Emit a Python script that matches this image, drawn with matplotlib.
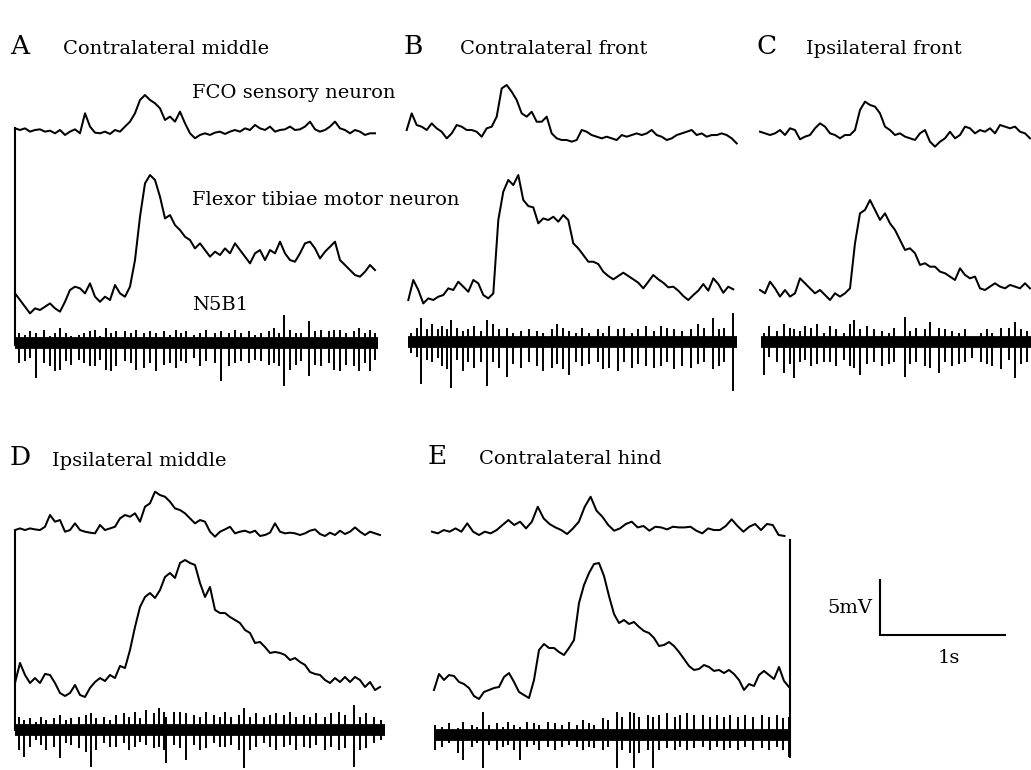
import numpy as np
import matplotlib
matplotlib.use("Agg")
import matplotlib.pyplot as plt

# ---------------- data ----------------
# Intracellular traces: membrane potential (mV) relative to each trace's resting level,
# sampled at a fixed interval (s).
DT = 0.04
DT_E_FCO = 0.047

A_fco = [0.45, 0.3, 0.45, 0.15, 0.3, 0.36, 0.15, 0.24, 0, 0.3, -0.15, 0.15, 0.36, 0, 1.82, 0.61, 0.06, 0,
         0.15, -0.06, 0.3, 0.15, 0.61, 1.06, 1.82, 3.03, 3.48, 3.03, 2.73, 2.27, 1.21, 1.52, 1.06, 1.97, 0.91,
         0, -0.45, -0.15, 0, -0.15, 0.06, 0.15, -0.06, 0.15, 0.3, 0.15, 0.45, 0.3, 0.76, 0.45, 0.3, 0.61, 0.15,
         0.3, 0.36, 0.61, 0.3, 0.36, 0.61, 1.06, 0.36, 0.15, 0.3, 0.61, 1.06, 0.45, 0.3, 0, 0.3, 0.15, -0.15, 0, 0]
A_flex = [1.21, 0.61, 0, -0.61, -0.15, -0.3, 0, 0.3, -0.15, -0.45, 0.45, 1.52, 1.82, 1.67, 1.21, 2.12, 0.91,
          0.45, 0.91, 0.61, 1.97, 1.21, 0.91, 1.82, 4.24, 8.18, 11.21, 11.97, 11.52, 10.0, 8.03, 8.33, 7.42,
          6.97, 6.36, 6.06, 5.3, 5.76, 5.15, 4.55, 5.0, 4.7, 5.3, 4.85, 5.76, 5.15, 4.55, 3.94, 4.85, 5.15,
          4.24, 5.15, 4.85, 5.91, 4.85, 4.24, 4.09, 4.85, 5.76, 5.91, 5.3, 4.39, 5.0, 5.45, 5.91, 4.24, 3.79,
          3.33, 2.88, 2.73, 3.18, 3.79, 3.33]
B_fco = [0.61, 2.12, 1.06, 0.91, 0.61, 1.21, 0.76, 0.45, -0.15, 0.3, 1.06, 0.91, 0.61, 0.61, 0.45, 0, 0.76,
         0.91, 1.82, 4.39, 4.7, 4.09, 3.33, 2.12, 1.82, 2.27, 1.36, 1.36, 1.82, 0.3, -0.15, -0.3, -0.3, -0.45,
         -0.3, 0.61, 0.45, 0.15, 0, -0.15, 0, -0.15, -0.3, 0.15, 0, 0.15, 0.3, 0.15, 0.3, 0.61, 0.15, 0, -0.3,
         -0.15, 0.15, 0.3, 0.45, 0.61, 0.15, 0.3, 0, 0.15, 0.15, 0.3, 0.15, -0.15, -0.61]
B_flex = [-0.3, 1.52, 0.61, -0.61, -0.15, -0.3, 0, 0.15, 0.76, 0.61, 1.36, 0.91, 0.45, 1.52, 1.21, 0.15,
          -0.15, 0.3, 6.97, 9.55, 10.61, 10.15, 11.06, 8.79, 8.24, 8.12, 6.67, 7.12, 6.97, 7.27, 6.82, 7.42,
          6.97, 4.85, 4.39, 3.79, 3.18, 3.18, 2.97, 2.27, 1.88, 1.58, 1.88, 2.18, 1.88, 1.58, 1.27, 0.76, 1.36,
          1.97, 1.58, 1.27, 0.85, 0.91, 0.55, 0.06, -0.3, 0.15, 0.55, 1.15, 0.55, 1.67, 1.15, 0.36, 0.91, 0.67]
C_fco = [0.3, 0.15, 0, 0.15, 0.45, 0, 0.61, 0.45, -0.39, -0.15, 0, 0.61, 1.06, 0.76, 0.15, 0, -0.3, 0, 0,
         0.45, 2.27, 3.03, 2.73, 2.58, 1.97, 0.76, 0.45, 0, 0.15, -0.15, -0.3, -0.45, 0.15, 0.45, -0.61, -1.06,
         -0.61, -0.3, 0.3, -0.3, 0, 0.76, 0.61, 0.15, 0.45, 0.3, 0.61, 0.15, 0.91, 0.76, 0.61, 0.76, 0.3, 0.15,
         -0.3]
C_flex = [0.3, 0, 1.06, 0.45, -0.3, 0.3, -0.3, 0, 1.36, 0.91, 0.45, 0, 0.3, -0.15, -0.61, 0, -0.3, 0, 0.45,
          4.55, 7.27, 7.58, 8.48, 7.58, 6.67, 7.27, 6.36, 5.76, 4.85, 3.94, 4.09, 3.64, 2.58, 2.73, 2.42, 2.42,
          1.97, 1.82, 1.52, 1.21, 2.27, 1.67, 1.36, 1.52, 0.45, 0.3, 0.61, 0.91, 0.61, 0.45, 0.76, 0.61, 0.45,
          0.91, 0.45]
D_fco = [0.15, 0.3, 0.15, 0.3, 0.21, 0.15, 0.45, 1.52, 0.91, 1.06, 0, 0.15, 0.76, 0.15, 0, -0.09, -0.15,
         0.61, 0.15, 0.3, 0.45, 1.21, 1.52, 1.36, 1.67, 0.91, 2.27, 2.58, 3.64, 3.33, 3.18, 2.73, 2.12, 1.97,
         1.67, 1.21, 0.76, 1.06, 0.91, 0, -0.45, 0, 0.21, 0.45, -0.15, 0, 0.09, -0.09, 0.09, -0.39, -0.3,
         -0.09, 0.76, 0, -0.15, -0.09, -0.15, -0.3, -0.15, 0.09, 0.21, -0.21, -0.39, -0.09, -0.3, 0.09, -0.21,
         0, 0.39, 0, -0.3, 0, -0.15, -0.3]
D_flex = [0, 1.82, 0.73, 0, 0.45, 0, 0.82, 0.73, 0, -0.91, -1.18, -0.91, -0.18, -1.09, -1.27, -0.45, 0.09,
          0.45, 0.18, 0.73, 0.45, 1.55, 1.36, 3.0, 5.09, 6.91, 7.82, 8.18, 7.73, 8.45, 9.64, 10.0, 9.55,
          10.91, 11.18, 10.91, 10.73, 9.09, 7.82, 8.73, 6.64, 6.36, 6.36, 6.0, 5.73, 5.45, 4.82, 4.55, 3.64,
          3.73, 3.27, 2.73, 2.82, 2.73, 2.55, 2.09, 2.27, 1.91, 1.64, 1.0, 0.82, 0.73, 0.27, 0, 0.45, 0.09,
          0.55, 0.09, 0.55, 0.27, -0.36, 0.09, -0.64, -0.36]
E_fco = [0, -0.15, 0.15, 0, 0.3, 0, 0.76, 0, -0.3, 0, -0.15, 0.15, 0.61, 1.06, 0.61, 0.91, 0.3, 0.91, 2.27,
         1.21, 0.7, 0.39, 0.15, -0.21, 0.3, 0.91, 2.27, 3.18, 1.91, 1.36, 0.61, 0.09, 0.3, 0.7, 0.91, 0.39,
         0.52, 0.09, 0.45, 0.39, 0.21, 0.45, 0.39, 0.39, 0.45, 0.09, -0.15, 0.3, 0.15, 0.15, 0.52, 1.12, 0.52,
         0, 0.45, 0.7, 0.15, 0.7, 0.61, -0.3, -0.39]
E_flex = [-0.18, 1.27, 0.73, 1.18, 1.09, 0.55, 0.36, 0, -0.73, -1.0, -0.36, -0.18, 0, 0.09, 1.0, 1.36, 0.55,
          -0.36, -0.64, -0.91, 0.73, 3.45, 4.0, 3.64, 3.64, 3.27, 3.0, 3.64, 4.36, 7.73, 9.36, 10.45, 11.27,
          11.36, 10.18, 8.36, 6.73, 5.91, 6.18, 5.82, 6.0, 5.55, 5.18, 5.0, 4.55, 3.82, 3.91, 4.18, 3.82,
          3.27, 2.64, 2.0, 1.64, 1.73, 2.09, 1.91, 1.55, 1.64, 1.36, 1.64, 1.27, 0.73, -0.18, 0.36, 0.18,
          1.18, 1.55, 1.18, 0.82, 1.91, 0.64, 0.09]

# Extracellular N5B1 recordings: spike time (s), upward and downward excursion (a.u.)
A_spk_t = [.03, .08, .12, .17, .23, .28, .32, .36, .41, .45, .51, .55, .60, .64, .68, .73, .77, .81, .88,
           .93, .97, 1.03, 1.08, 1.13, 1.19, 1.24, 1.29, 1.33, 1.37, 1.43, 1.48, 1.53, 1.60, 1.65, 1.71, 1.76,
           1.81, 1.87, 1.92, 1.97, 2.03, 2.07, 2.11, 2.15, 2.20, 2.25, 2.29, 2.35, 2.40, 2.45, 2.51, 2.55,
           2.60, 2.65, 2.71, 2.75, 2.80, 2.84, 2.88]
A_spk_up = [10, 8.3, 11.7, 10, 13.3, 6.7, 10, 15, 10, 6.7, 8.3, 10, 11.7, 13.3, 6.7, 15, 10, 11.7, 11.7, 10,
            13.3, 10, 11.7, 10, 11.7, 8.3, 13.3, 10, 11.7, 8.3, 10, 13.3, 10, 11.7, 10, 13.3, 10, 11.7, 8.3,
            10, 11.7, 15, 10, 28.3, 13.3, 10, 10, 21.7, 11.7, 13.3, 11.7, 13.3, 13.3, 10, 11.7, 15, 10, 13.3,
            10]
A_spk_dn = [20, 18.3, 15, 35, 20, 23.3, 28.3, 26.7, 18.3, 21.7, 16.7, 20, 23.3, 23.3, 16.7, 26.7, 28.3,
            23.3, 18.3, 20, 26.7, 25, 20, 28.3, 21.7, 20, 25, 18.3, 20, 15, 23.3, 18.3, 20, 38.3, 23.3, 20,
            18.3, 20, 16.7, 18.3, 21.7, 20, 23.3, 43.3, 26.7, 21.7, 18.3, 33.3, 21.7, 23.3, 20, 26.7, 28.3,
            21.7, 23.3, 28.3, 20, 28.3, 16.7]
B_spk_t = [.02, .07, .10, .15, .19, .24, .27, .31, .34, .39, .44, .48, .53, .58, .63, .68, .73, .79, .84,
           .90, .97, 1.03, 1.08, 1.15, 1.19, 1.24, 1.29, 1.34, 1.39, 1.45, 1.52, 1.56, 1.61, 1.68, 1.73, 1.79,
           1.84, 1.90, 1.97, 2.02, 2.07, 2.13, 2.19, 2.26, 2.32, 2.37, 2.44, 2.49, 2.53, 2.60]
B_spk_up = [9.1, 14.5, 23.6, 12.7, 18.2, 12.7, 16.4, 12.7, 21.8, 14.5, 10.9, 12.7, 16.4, 10.9, 21.8, 18.2,
            12.7, 14.5, 9.1, 10.9, 12.7, 10.9, 9.1, 12.7, 18.2, 14.5, 10.9, 9.1, 14.5, 9.1, 12.7, 9.1, 16.4,
            12.7, 14.5, 9.1, 12.7, 16.4, 10.9, 16.4, 14.5, 12.7, 10.9, 12.7, 18.2, 14.5, 23.6, 12.7, 14.5,
            29.1]
B_spk_dn = [10.9, 14.5, 41.8, 18.2, 20, 16.4, 23.6, 27.3, 45.5, 18.2, 29.1, 20, 25.5, 20, 43.6, 20, 25.5,
            34.5, 21.8, 25.5, 20, 23.6, 29.1, 25.5, 21.8, 27.3, 32.7, 20, 23.6, 21.8, 20, 27.3, 25.5, 29.1,
            20, 25.5, 21.8, 23.6, 25.5, 23.6, 20, 27.3, 23.6, 25.5, 21.8, 20, 27.3, 23.6, 20, 49.1]
C_spk_t = [.02, .06, .13, .18, .23, .26, .31, .35, .40, .45, .50, .55, .60, .66, .71, .74, .79, .85, .90,
           .97, 1.02, 1.06, 1.15, 1.19, 1.24, 1.31, 1.35, 1.42, 1.47, 1.53, 1.58, 1.63, 1.69, 1.76, 1.81,
           1.85, 1.92, 1.98, 2.03, 2.08, 2.13]
C_spk_up = [9.1, 16.4, 10.9, 18.2, 14.5, 12.7, 10.9, 16.4, 14.5, 18.2, 9.1, 16.4, 12.7, 9.1, 18.2, 21.8,
            12.7, 16.4, 12.7, 10.9, 9.1, 14.5, 25.5, 10.9, 14.5, 12.7, 20, 14.5, 12.7, 10.9, 9.1, 12.7, 3.6,
            9.1, 12.7, 9.1, 14.5, 14.5, 20, 12.7, 10.9]
C_spk_dn = [32.7, 14.5, 20, 30.9, 21.8, 36.4, 20, 18.2, 23.6, 21.8, 20, 20, 23.6, 18.2, 23.6, 25.5, 32.7,
            21.8, 20, 23.6, 21.8, 20, 34.5, 21.8, 20, 23.6, 25.5, 30.9, 20, 23.6, 21.8, 20, 16.4, 20, 21.8,
            23.6, 27.3, 18.2, 36.4, 21.8, 20]
D_spk_t = [.03, .07, .12, .17, .21, .25, .31, .36, .41, .45, .51, .57, .61, .65, .71, .76, .81, .87, .91,
           .96, 1.0, 1.05, 1.11, 1.15, 1.19, 1.21, 1.27, 1.32, 1.37, 1.43, 1.48, 1.53, 1.59, 1.64, 1.68,
           1.73, 1.79, 1.83, 1.88, 1.93, 1.99, 2.04, 2.09, 2.15, 2.20, 2.25, 2.31, 2.36, 2.41, 2.48, 2.53,
           2.59, 2.64, 2.71, 2.76, 2.81, 2.87, 2.93]
D_spk_up = [13.3, 10, 11.7, 8.3, 13.3, 10, 11.7, 15, 10, 11.7, 13.3, 15, 16.7, 11.7, 13.3, 10, 15, 16.7,
            13.3, 18.3, 11.7, 20, 16.7, 21.7, 18.3, 13.3, 18.3, 18.3, 16.7, 15, 13.3, 18.3, 15, 13.3, 18.3,
            13.3, 15, 21.7, 13.3, 16.7, 13.3, 15, 16.7, 15, 18.3, 13.3, 15, 13.3, 16.7, 13.3, 16.7, 18.3, 15,
            25, 13.3, 16.7, 13.3, 10]
D_spk_dn = [20, 26.7, 16.7, 10, 15, 20, 16.7, 28.3, 13.3, 15, 18.3, 21.7, 36.7, 20, 13.3, 16.7, 16.7, 13.3,
            20, 16.7, 11.7, 15, 18.3, 16.7, 20, 33.3, 15, 18.3, 30, 15, 20, 18.3, 13.3, 16.7, 16.7, 15, 20,
            38.3, 20, 16.7, 13.3, 16.7, 20, 16.7, 15, 20, 16.7, 18.3, 15, 20, 16.7, 20, 18.3, 36.7, 20, 18.3,
            13.3, 10]
E_spk_t = [.01, .06, .12, .19, .23, .30, .34, .39, .44, .50, .55, .59, .64, .69, .74, .80, .84, .91, .97,
           1.02, 1.08, 1.14, 1.19, 1.24, 1.28, 1.35, 1.39, 1.46, 1.50, 1.57, 1.60, 1.64, 1.71, 1.75, 1.80,
           1.86, 1.93, 1.97, 2.02, 2.08, 2.15, 2.21, 2.26, 2.32, 2.37, 2.43, 2.49, 2.55, 2.62, 2.68, 2.74,
           2.79, 2.84]
E_spk_up = [10, 8.3, 11.7, 6.7, 13.3, 10, 8.3, 23.3, 10, 11.7, 8.3, 13.3, 10, 8.3, 13.3, 11.7, 10, 13.3,
            11.7, 10, 13.3, 10, 15, 11.7, 10, 16.7, 15, 23.3, 18.3, 23.3, 21.7, 18.3, 20, 18.3, 20, 21.7,
            18.3, 20, 21.7, 20, 20, 18.3, 20, 18.3, 20, 18.3, 20, 18.3, 20, 18.3, 20, 16.7, 18.3]
E_spk_dn = [15, 11.7, 8.3, 18.3, 25, 11.7, 8.3, 33.3, 10, 15, 11.7, 10, 15, 25, 11.7, 10, 15, 11.7, 15,
            11.7, 10, 11.7, 15, 11.7, 13.3, 15, 11.7, 33.3, 15, 18.3, 33.3, 18.3, 15, 33.3, 15, 13.3, 15,
            11.7, 15, 13.3, 11.7, 15, 11.7, 15, 13.3, 15, 11.7, 15, 13.3, 15, 11.7, 15, 21.7]
N5B1_DURATION = {"A": 2.90, "B": 2.63, "C": 2.16, "D": 2.96, "E": 2.85}

SCALE_MV = 5
SCALE_S = 1

titles = {"A": "Contralateral middle", "B": "Contralateral front", "C": "Ipsilateral front",
          "D": "Ipsilateral middle", "E": "Contralateral hind"}
trace_labels = ["FCO sensory neuron", "Flexor tibiae motor neuron", "N5B1"]

# ---------------- layout ----------------
W, H = 1031, 770
PX_PER_S = 125.0      # 1 s scale bar = 125 px
PX_PER_MV = 11.0      # 5 mV scale bar = 55 px
N5B1_GAIN = 1.0 / PX_PER_MV  # mV-equivalent per a.u.


def at(xp, yp):
    """layout position (px from top-left) -> axes data coordinates (s, mV)"""
    return xp / PX_PER_S, -yp / PX_PER_MV


fig = plt.figure(figsize=(W / 100, H / 100), dpi=100)
ax = fig.add_axes([0, 0, 1, 1])
ax.set_xlim(0, W / PX_PER_S)
ax.set_ylim(-H / PX_PER_MV, 0)
ax.axis("off")

LW = 1.45
INK = "black"

# origins (px) of each trace: (x_start, resting level y)
layout = {
    "A": dict(fco=(15, 133.3), flex=(15, 306.7), n5=(15, 343)),
    "B": dict(fco=(406.7, 136.7), flex=(408.3, 296.7), n5=(408, 342)),
    "C": dict(fco=(760, 135), flex=(760, 293.3), n5=(761, 342)),
    "D": dict(fco=(15, 531.7), flex=(15, 683), n5=(15, 730)),
    "E": dict(fco=(432, 531.7), flex=(434, 688), n5=(434, 735)),
}
series = {
    "A": (A_fco, DT, A_flex, DT, A_spk_t, A_spk_up, A_spk_dn),
    "B": (B_fco, DT, B_flex, DT, B_spk_t, B_spk_up, B_spk_dn),
    "C": (C_fco, DT, C_flex, DT, C_spk_t, C_spk_up, C_spk_dn),
    "D": (D_fco, DT, D_flex, DT, D_spk_t, D_spk_up, D_spk_dn),
    "E": (E_fco, DT_E_FCO, E_flex, DT, E_spk_t, E_spk_up, E_spk_dn),
}

for key, (fco, dt_f, flex, dt_x, st, su, sd) in series.items():
    lay = layout[key]
    for vals, dt, origin in ((fco, dt_f, lay["fco"]), (flex, dt_x, lay["flex"])):
        t0, v0 = at(*origin)
        t = t0 + np.arange(len(vals)) * dt
        ax.plot(t, v0 + np.asarray(vals), color=INK, lw=LW, solid_joinstyle="round")
    # N5B1 extracellular trace: dense baseline band + spikes
    t0, v0 = at(*lay["n5"])
    ax.plot([t0, t0 + N5B1_DURATION[key]], [v0, v0], color=INK, lw=8.5, solid_capstyle="butt")
    st = t0 + np.asarray(st)
    ax.vlines(st, v0 - np.asarray(sd) * N5B1_GAIN, v0 + np.asarray(su) * N5B1_GAIN,
              color=INK, lw=1.4)

# connecting vertical lines at the trace edges
for (xp, y1, y2) in [(15, 128, 345), (15, 531, 730), (790, 540, 757)]:
    xa, ya = at(xp, y1)
    _, yb = at(xp, y2)
    ax.plot([xa, xa], [ya, yb], color=INK, lw=1.5)

# scale bar
sx, sy = at(880, 635)
ax.plot([sx, sx, sx + SCALE_S], [sy + SCALE_MV, sy, sy], color=INK, lw=1.5, solid_joinstyle="miter")

SERIF = ["DejaVu Serif"]
letter_kw = dict(family=SERIF, fontsize=19, va="center", ha="left", color=INK)
title_kw = dict(family=SERIF, fontsize=14, va="center", ha="left", color=INK)

for key, (lx, ly, tx, ty) in {"A": (10, 46, 63, 49), "B": (404, 46, 460, 49), "C": (756, 46, 806, 49),
                              "D": (10, 458, 52, 461), "E": (428, 456, 479, 459)}.items():
    ax.text(*at(lx, ly), key, **letter_kw)
    ax.text(*at(tx, ty), titles[key], **title_kw)

for lbl, yp in zip(trace_labels, (93, 200, 305)):
    ax.text(*at(192, yp), lbl, **title_kw)

ax.text(*at(872, 608), f"{SCALE_MV}mV", family=SERIF, fontsize=14, ha="right", va="center")
ax.text(*at(949, 658), f"{SCALE_S}s", family=SERIF, fontsize=14, ha="center", va="center")

fig.savefig("out.png", dpi=100, facecolor="white")
